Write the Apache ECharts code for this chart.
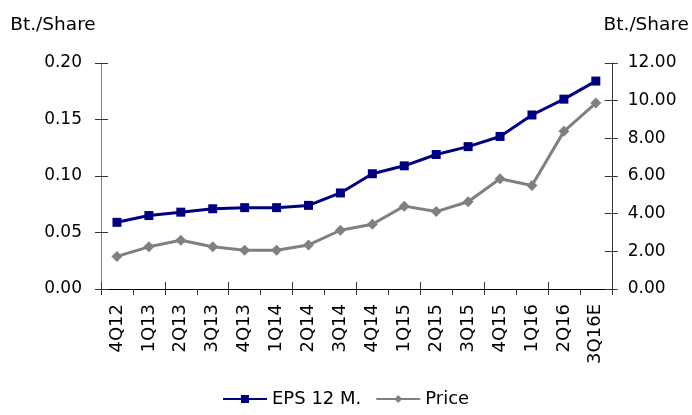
<!DOCTYPE html>
<html>
<head>
<meta charset="utf-8">
<script src="https://cdn.jsdelivr.net/npm/echarts@6/dist/echarts.min.js"></script>
<style>
  html, body { margin: 0; padding: 0; background: #fff; }
  #chart { width: 692px; height: 415px; }
</style>
</head>
<body>
<div id="chart"></div>
<script>
// categories (quarters)
const quarters = ["4Q12", "1Q13", "2Q13", "3Q13", "4Q13", "1Q14", "2Q14", "3Q14",
  "4Q14", "1Q15", "2Q15", "3Q15", "4Q15", "1Q16", "2Q16", "3Q16E"];
// EPS 12 M. (left axis, Bt./Share)
const epsValues = [0.059, 0.065, 0.068, 0.071, 0.072, 0.072, 0.074, 0.085,
  0.102, 0.109, 0.119, 0.126, 0.135, 0.154, 0.168, 0.184];
// Price (right axis, Bt./Share)
const priceValues = [1.73, 2.24, 2.59, 2.24, 2.06, 2.06, 2.34, 3.12,
  3.44, 4.40, 4.11, 4.63, 5.85, 5.50, 8.37, 9.87];

const FONT = "DejaVu Sans";
const chart = echarts.init(document.getElementById("chart"));

// axes that only draw the inner half of the cross ticks
const innerTick = { show: true, inside: true, length: 7, lineStyle: { color: "#333" } };

const option = {
  animation: false,
  textStyle: { fontFamily: FONT },
  grid: { left: 101, right: 80, top: 63, bottom: 126, containLabel: false },
  legend: {
    bottom: 2,
    left: 217,
    itemWidth: 44,
    itemHeight: 10,
    itemGap: 14,
    textStyle: { fontSize: 18, color: "#000", fontFamily: FONT },
    data: ["EPS 12 M.", "Price"]
  },
  xAxis: [
    {
      type: "category",
      data: quarters,
      position: "bottom",
      boundaryGap: true,
      axisLine: { lineStyle: { color: "#000", width: 1 } },
      axisTick: { show: true, length: 6, lineStyle: { color: "#333" } },
      axisLabel: { rotate: 90, margin: 15, fontSize: 18, color: "#000", fontFamily: FONT },
      splitLine: { show: false }
    },
    {
      type: "category",
      data: quarters,
      position: "bottom",
      axisLine: { show: false },
      axisTick: innerTick,
      axisLabel: { show: false },
      splitLine: { show: false }
    }
  ],
  yAxis: [
    {
      type: "value",
      position: "left",
      min: 0,
      max: 0.2,
      interval: 0.05,
      name: "Bt./Share",
      nameLocation: "end",
      nameGap: 28,
      nameTextStyle: { fontSize: 18.5, color: "#000", align: "center", padding: [0, 96, 0, 0], fontFamily: FONT },
      axisLine: { show: true, lineStyle: { color: "#808080" } },
      axisTick: { show: true, length: 6, lineStyle: { color: "#333" } },
      axisLabel: { margin: 19, fontSize: 17, color: "#000", fontFamily: FONT, formatter: v => v.toFixed(2) },
      splitLine: { show: false }
    },
    {
      type: "value",
      position: "right",
      min: 0,
      max: 12,
      interval: 2,
      name: "Bt./Share",
      nameLocation: "end",
      nameGap: 28,
      nameTextStyle: { fontSize: 18.5, color: "#000", align: "center", padding: [0, 0, 0, 69], fontFamily: FONT },
      axisLine: { show: true, lineStyle: { color: "#333" } },
      axisTick: { show: true, length: 6, lineStyle: { color: "#333" } },
      axisLabel: { margin: 16, fontSize: 17, color: "#000", fontFamily: FONT, formatter: v => v.toFixed(2) },
      splitLine: { show: false }
    },
    {
      type: "value", position: "left", min: 0, max: 0.2, interval: 0.05,
      axisLine: { show: false }, axisTick: innerTick, axisLabel: { show: false }, splitLine: { show: false }
    },
    {
      type: "value", position: "right", min: 0, max: 12, interval: 2,
      axisLine: { show: false }, axisTick: innerTick, axisLabel: { show: false }, splitLine: { show: false }
    }
  ],
  series: [
    {
      name: "EPS 12 M.",
      type: "line",
      xAxisIndex: 0,
      yAxisIndex: 0,
      data: epsValues,
      symbol: "rect",
      symbolSize: 9,
      z: 3,
      lineStyle: { color: "#000080", width: 3 },
      itemStyle: { color: "#000080" }
    },
    {
      name: "Price",
      type: "line",
      xAxisIndex: 0,
      yAxisIndex: 1,
      data: priceValues,
      symbol: "diamond",
      symbolSize: 11,
      z: 2,
      lineStyle: { color: "#808080", width: 3 },
      itemStyle: { color: "#808080" }
    }
  ]
};

chart.setOption(option);
</script>
</body>
</html>
